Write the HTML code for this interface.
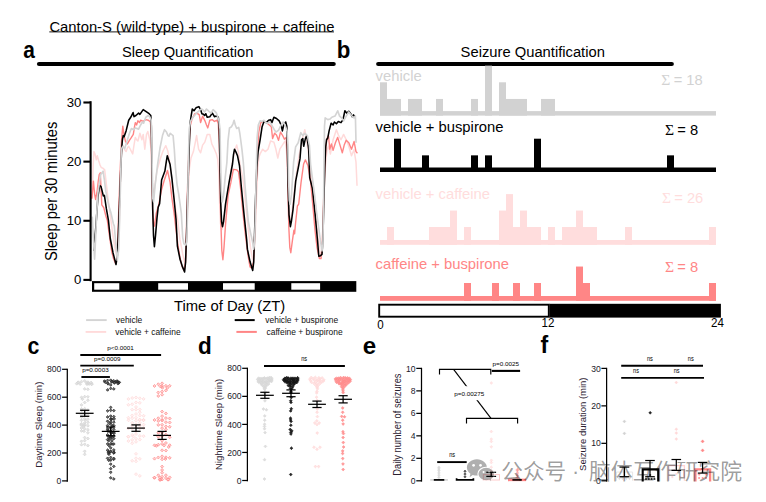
<!DOCTYPE html>
<html lang="en"><head><meta charset="utf-8"><title>Canton-S (wild-type) + buspirone + caffeine</title>
<style>html,body{margin:0;padding:0;background:#fff}svg{display:block}text{white-space:pre}</style></head>
<body>
<svg width="766" height="502" viewBox="0 0 766 502" font-family="'Liberation Sans', Arial, sans-serif">
<rect width="766" height="502" fill="#fff"/>
<text x="49.4" y="31.6" font-size="14.8" fill="#000" text-anchor="start" id="title">Canton-S (wild-type) + buspirone + caffeine</text>
<line x1="49.3" y1="31.9" x2="334" y2="31.9" stroke="#000" stroke-width="0.9" stroke-linecap="butt"/>
<text transform="translate(23.2,57.8) scale(0.9,1)" font-size="23.2" fill="#000" text-anchor="start" font-weight="bold">a</text>
<text transform="translate(336.7,57.8) scale(0.96,1)" font-size="23.2" fill="#000" text-anchor="start" font-weight="bold">b</text>
<text transform="translate(27.5,354) scale(0.92,1)" font-size="23.2" fill="#000" text-anchor="start" font-weight="bold">c</text>
<text transform="translate(198,354) scale(0.97,1)" font-size="23.2" fill="#000" text-anchor="start" font-weight="bold">d</text>
<text transform="translate(362.8,354.2) scale(1.04,1)" font-size="23.2" fill="#000" text-anchor="start" font-weight="bold">e</text>
<text x="540.4" y="353.3" font-size="23.2" fill="#000" text-anchor="start" font-weight="bold">f</text>
<text x="122" y="57.3" font-size="14.7" fill="#000" text-anchor="start" id="hA">Sleep Quantification</text>
<line x1="39" y1="64" x2="333.7" y2="64" stroke="#000" stroke-width="4.2" stroke-linecap="round"/>
<text x="460.6" y="57.3" font-size="14.75" fill="#000" text-anchor="start" id="hB">Seizure Quantification</text>
<line x1="378.2" y1="64" x2="671.8" y2="64" stroke="#000" stroke-width="4.2" stroke-linecap="round"/>
<g fill="none" stroke-linejoin="round" stroke-linecap="round">
<polyline points="92.3,197.11 93.2,164.59 93.9,151.58 95,153.95 96.3,159.86 97.3,155.72 98.6,160.45 99.9,164.59 101.2,167.55 102.8,168.14 104.7,169.91 105.8,179.37 107.3,192.38 109,205.98 111,220.77 113,235.55 115,248.56 116.8,256.25 118,253.29 119,232.59 120,197.11 121,161.63 122.2,145.08 123.5,146.26 124.8,149.81 126.1,151.58 127.4,148.03 128.7,146.26 130.6,149.81 132.7,153.95 134,145.08 135.3,137.39 136.6,139.75 137.9,140.94 139.9,133.25 141.9,139.75 143.2,134.43 144.8,149.22 146.5,134.43 147.8,131.48 149.8,139.75 151,148.62 151.5,173.46 152.1,194.16 152.7,197.11 154.5,188.24 157,170.5 160.3,158.68 163,150.99 165.8,145.67 167.8,150.99 169.7,162.22 171.5,176.42 173,191.2 175,205.98 177.5,218.99 180,239.69 182.7,253.88 184.5,262.16 186,256.25 187,226.68 188.2,191.2 189.5,167.55 191,158.09 193.4,151.58 195,143.89 196.6,135.61 197.6,142.71 198.6,149.22 200.6,152.76 202.6,145.08 204.8,142.12 207.2,134.43 209.8,134.43 211.8,143.89 214.4,149.22 216.4,153.95 217.7,159.27 218.8,173.46 219.6,203.03 220.5,223.72 222,229.64 223.5,223.72 225.5,208.94 228,191.2 230.5,173.46 233,158.68 235,149.81 236.7,145.08 238.5,152.76 240,164.59 243,179.37 245.5,203.03 248,226.68 250.5,247.38 252.5,259.2 254,256.25 255.3,232.59 256.5,197.11 257.8,167.55 259,156.9 260.1,153.95 262.7,149.22 265.3,151.58 268,149.22 270.6,140.94 273.9,142.12 275.9,149.22 277.8,158.09 279.8,149.22 282.4,145.08 285.1,140.94 286.4,149.22 287.4,167.55 288.2,197.11 289.2,217.81 290.5,220.77 292,211.9 294,194.16 296.5,173.46 299,155.72 301.5,143.89 303.5,134.43 304.8,129.7 306,136.21 308,149.81 311,173.46 313.5,197.11 316,220.77 318.5,241.46 320.5,256.25 322,253.29 323,226.68 324.2,191.2 325.5,164.59 327,149.81 328.5,146.26 330.4,153.95 333.1,139.75 336.4,129.7 338.4,135.02 341,139.75 343.6,134.43 346.2,139.75 348.8,146.26 351.5,155.72 354,149.81 356,162.22 357,185.29" stroke="#ffdada" stroke-width="1.5"/>
<polyline points="91.9,198.3 93.4,181.15 94.6,194.16 95.6,199.48 97.2,190.61 98.3,181.15 99.2,174.64 100.3,172.87 101,188.24 101.8,204.8 103.8,207.76 105.7,215.44 107.3,220.18 109,232.59 111.7,251.52 113.5,258.61 115.4,263.34 116.5,260.98 117.8,238.51 119,203.03 120.3,167.55 121.5,140.94 122.8,126.15 124.1,135.61 125.5,141.53 127.4,143.89 129.4,140.35 131.4,137.39 133.3,134.43 134.4,127.34 135.3,122.61 136.6,124.97 137.9,120.83 139.5,122.61 140.6,120.24 143.2,121.42 145.8,119.65 148.4,120.24 150.4,122.01 151.3,132.07 151.9,173.46 152.6,208.94 153.6,224.91 154.4,226.09 156.3,213.08 159,203.62 161.6,189.43 164.2,180.56 167.5,170.5 168.8,176.42 170.1,182.33 172.1,199.48 174.1,213.08 176,229.64 178,245.6 180,257.43 182,266.3 184,270.44 185.5,262.16 186.5,226.68 187.6,185.29 188.8,149.81 190.2,126.15 192,119.06 194.7,113.74 197,113.14 199.3,114.92 200.6,122.61 202.6,116.1 205.2,121.42 206.5,124.97 207.8,127.93 209.8,120.24 212.4,119.65 214.4,121.42 217,120.24 218.3,123.79 219.3,143.89 220,179.37 220.8,220.77 221.8,250.33 222.9,259.79 224,247.38 225.5,224.91 228.1,195.34 230.8,182.92 233.4,169.32 236.9,169.91 238.5,171.69 240.4,186.47 243,213.08 245.5,235.55 248,255.06 250,266.89 251.8,268.07 253.5,262.16 254.8,232.59 256,191.2 257.3,155.72 258.8,132.07 260.8,122.61 264,120.83 267.8,123.79 271.3,126.74 272.6,138.57 274.6,133.25 276.5,135.02 278.5,140.35 280.5,132.07 282.4,135.02 284.4,139.16 286.4,137.39 287.3,155.72 288,191.2 288.8,226.68 289.8,247.38 290.8,252.7 292.3,241.46 293.9,230.23 294.6,233.78 295.5,223.72 297.4,205.98 298.7,204.21 301,182.92 303.6,164 305.4,159.86 308,165.77 310.6,181.15 313.2,209.53 315,230.23 317,247.38 319.4,258.61 321,258.61 322.3,244.42 323.3,208.94 324.5,173.46 325.8,146.85 327.2,137.98 328.5,135.61 329.8,149.22 331.4,143.89 333.1,150.4 335.4,142.71 337.7,137.39 340,145.08 342.3,152.76 344.2,145.08 346.2,140.35 348.8,142.71 351.5,149.22 354.1,141.53 356,151.58 357,152.76" stroke="#ff8585" stroke-width="1.4"/>
<polyline points="94,250.33 95.9,226.09 97.9,197.11 99.6,185.29 101,186.47 102.5,192.38 103.3,195.93 104.4,195.34 106.4,208.94 108.4,220.18 110.3,238.51 113,252.7 116,264.53 117.3,256.25 118.4,232.59 119.5,203.03 120.6,173.46 121.6,149.81 122.4,139.75 123.2,135.61 124.1,136.8 126.1,130.88 128.7,120.24 130.7,117.28 133.1,112.55 134,116.69 135.9,115.51 138.6,113.14 139.9,114.33 143.2,109.6 145.8,111.37 149.1,113.74 150.8,115.51 151.3,126.15 151.9,161.63 152.7,208.94 153.5,235.55 154.4,246.79 155.5,235.55 157,217.81 158.2,207.17 159.6,203.62 161.6,179.96 164.9,171.09 166.3,161.63 167.3,155.72 168.6,159.86 170.1,164.59 172.1,179.96 174.1,199.48 176,218.99 177.4,246.19 180,259.2 182.5,266.89 184.6,271.92 185.6,262.16 186.6,232.59 187.6,197.11 188.7,161.63 190.1,123.2 191.2,115.51 192.3,109 194,110.78 196,107.82 198.9,106.64 200.6,109.6 201.9,113.74 203.5,114.33 204.5,115.51 205.8,113.74 207.2,117.28 209.8,116.69 212.4,113.14 214.4,116.69 216.4,116.1 218.3,117.28 219.2,126.15 219.9,161.63 220.7,203.03 221.6,221.95 222.5,226.68 223.5,221.95 225.5,204.21 229,182.92 232.5,164 233.5,154.54 234.5,149.22 236,152.17 237.5,155.72 239.5,165.77 241.3,186.47 243.9,213.08 246.6,239.1 247.4,249.15 250,261.57 252.7,270.44 253.7,262.16 254.6,232.59 255.6,197.11 256.8,167.55 258.1,151.58 260.1,139.75 262.1,126.74 264,121.42 266.3,122.61 268.6,120.24 270.6,119.65 271.9,122.61 273.9,117.28 276.5,118.47 279.2,120.83 281.1,124.97 282.4,130.88 283.7,124.97 285.7,122.01 286.8,126.15 287.4,149.81 288.1,185.29 289,214.85 290.4,226.68 291.5,220.77 293,209.53 295.7,181.15 298.3,167.55 300,158.68 301.5,139.75 302.8,138.57 303.7,146.26 305.4,138.57 306.8,135.61 308.7,149.22 309.7,177.6 312.4,188.24 315,213.08 317.6,241.46 318.8,256.25 320.5,255.66 322,254.47 322.9,238.51 323.8,203.03 324.8,167.55 325.7,146.85 326.5,139.75 327.8,137.98 329.1,130.88 331.1,123.2 333.1,124.97 334.4,122.01 336.4,123.79 338.3,121.42 341,122.61 343,119.65 344.9,110.78 346.9,113.14 348.8,111.37 350.8,113.74 352.1,116.69 353.5,114.92 355,117.28" stroke="#000" stroke-width="1.55"/>
<polyline points="92.3,217.22 93.4,238.51 94.6,259.2 95.6,238.51 96.5,217.81 97.9,192.97 99.4,182.92 100.5,174.64 102,172.87 103.1,171.09 104.4,179.96 105.7,190.61 107.7,200.66 109,206.57 111,213.08 113.4,223.72 114.3,226.09 115.6,241.46 117.3,260.39 118.6,250.33 119.6,220.77 120.5,184.1 121.3,149.22 122.8,146.26 124.7,148.62 127.4,139.75 129.5,133.25 131.4,128.52 133.5,129.7 135.4,127.93 138.6,129.11 140.6,124.97 142.4,122.01 143.6,123.2 145.8,117.28 148.2,115.51 149.6,116.69 151.1,119.65 151.8,132.07 152.2,167.55 152.8,198.3 153.6,201.84 155,186.47 157.6,164.59 160,148.03 162.5,135.61 164.5,129.7 166.5,132.07 168,135.61 169,136.21 170.2,133.25 171.5,134.43 173.1,135.61 174.3,149.22 175.5,168.14 177,184.1 178.7,194.16 181.3,213.08 182.7,237.32 183.9,243.83 185.9,245.01 186.8,241.46 187.6,208.94 188.3,161.63 189.2,129.11 190.5,121.42 192.5,117.87 194.5,115.51 196.5,113.14 199,110.78 201,109 202.6,109.6 204.5,111.96 206.5,109 209,111.37 211,113.14 213.1,109.6 215,111.37 216.5,113.14 217.8,117.28 219,120.83 220,129.11 220.6,161.63 221.3,191.2 222.2,201.84 223.5,195.93 225,179.37 226.9,162.22 228,140.94 229.5,127.93 231.5,126.74 233,123.79 234.1,120.24 235.3,124.97 236.7,128.52 238.7,127.34 239.8,133.25 240.7,139.75 242,149.81 243.3,162.22 245,185.29 246.8,205.98 248.3,221.36 250.5,232.59 252.7,242.65 253.6,249.15 254.5,244.42 255.3,220.77 256.2,173.46 257.1,137.98 258.3,124.97 260.1,120.83 262,121.42 264,120.24 265.8,122.61 267.3,123.2 269.9,122.01 272.6,126.74 274.3,129.7 275.9,132.07 278.5,130.29 281.1,124.97 283.1,122.01 285,124.97 287,130.88 287.9,143.89 288.6,179.37 289.3,200.07 290.2,204.21 291.5,194.16 293.6,162.22 295.6,146.85 298.2,142.71 300.8,132.66 302.8,135.61 304.8,133.25 307.4,135.61 309.4,145.08 310.6,164.59 312.4,178.19 314.5,194.16 316.7,213.08 320.2,239.1 322,250.92 322.9,244.42 323.5,208.94 324,161.63 324.5,126.15 325.2,117.87 327.8,119.65 330,119.06 331.8,117.28 335,116.1 337.7,110.78 339.6,116.1 341.6,117.87 343.6,120.83 346.2,116.1 348.8,111.96 351.4,115.51 354,117.87 355.4,116.1 356,142.12" stroke="#d4d4d4" stroke-width="1.65"/>
</g>
<line x1="90.6" y1="101.2" x2="90.6" y2="281.2" stroke="#000" stroke-width="2.1" stroke-linecap="butt"/>
<line x1="83.4" y1="279.9" x2="90.6" y2="279.9" stroke="#000" stroke-width="2.1" stroke-linecap="butt"/>
<text x="81.3" y="284.2" font-size="13.2" fill="#000" text-anchor="end">0</text>
<line x1="83.4" y1="220.77" x2="90.6" y2="220.77" stroke="#000" stroke-width="2.1" stroke-linecap="butt"/>
<text x="81.3" y="225.07" font-size="13.2" fill="#000" text-anchor="end">10</text>
<line x1="83.4" y1="161.63" x2="90.6" y2="161.63" stroke="#000" stroke-width="2.1" stroke-linecap="butt"/>
<text x="81.3" y="165.93" font-size="13.2" fill="#000" text-anchor="end">20</text>
<line x1="83.4" y1="102.5" x2="90.6" y2="102.5" stroke="#000" stroke-width="2.1" stroke-linecap="butt"/>
<text x="81.3" y="106.8" font-size="13.2" fill="#000" text-anchor="end">30</text>
<text transform="translate(56.6,191.4) rotate(-90) scale(1,1.08)" font-size="14.75" text-anchor="middle" id="ylabA">Sleep per 30 minutes</text>
<rect x="92" y="281.1" width="264.3" height="10.7" fill="#000"/>
<rect x="94.2" y="283.2" width="25.1" height="6.5" fill="#fff"/>
<rect x="158.2" y="283.2" width="29.8" height="6.5" fill="#fff"/>
<rect x="223" y="283.2" width="31.7" height="6.5" fill="#fff"/>
<rect x="291.3" y="283.2" width="28.8" height="6.5" fill="#fff"/>
<text x="174" y="310.7" font-size="14.8" fill="#000" text-anchor="start" id="xlabA">Time of Day (ZT)</text>
<line x1="86.1" y1="320.1" x2="106.7" y2="320.1" stroke="#d4d4d4" stroke-width="1.9" stroke-linecap="butt"/>
<text x="116" y="323.4" font-size="8.45" fill="#111" text-anchor="start">vehicle</text>
<line x1="85.6" y1="331.9" x2="106.2" y2="331.9" stroke="#ffdada" stroke-width="1.9" stroke-linecap="butt"/>
<text x="115.3" y="335.2" font-size="8.45" fill="#111" text-anchor="start">vehicle + caffeine</text>
<line x1="234.7" y1="320.1" x2="254.7" y2="320.1" stroke="#000" stroke-width="2" stroke-linecap="butt"/>
<text x="265.3" y="323.4" font-size="8.45" fill="#111" text-anchor="start">vehicle + buspirone</text>
<line x1="236.4" y1="331.9" x2="256.8" y2="331.9" stroke="#ff8585" stroke-width="2" stroke-linecap="butt"/>
<text x="266.5" y="335.2" font-size="8.45" fill="#111" text-anchor="start">caffeine + buspirone</text>
<rect x="380" y="111.1" width="336" height="4.5" fill="#d2d2d2"/>
<rect x="380" y="82.3" width="7" height="33.3" fill="#d2d2d2"/>
<rect x="387" y="98.95" width="7" height="16.65" fill="#d2d2d2"/>
<rect x="394" y="98.95" width="7" height="16.65" fill="#d2d2d2"/>
<rect x="408" y="98.95" width="7" height="16.65" fill="#d2d2d2"/>
<rect x="415" y="98.95" width="7" height="16.65" fill="#d2d2d2"/>
<rect x="436" y="98.95" width="7" height="16.65" fill="#d2d2d2"/>
<rect x="471" y="98.95" width="7" height="16.65" fill="#d2d2d2"/>
<rect x="485" y="65.65" width="7" height="49.95" fill="#d2d2d2"/>
<rect x="499" y="82.3" width="7" height="33.3" fill="#d2d2d2"/>
<rect x="506" y="98.95" width="7" height="16.65" fill="#d2d2d2"/>
<rect x="513" y="98.95" width="7" height="16.65" fill="#d2d2d2"/>
<rect x="520" y="98.95" width="7" height="16.65" fill="#d2d2d2"/>
<rect x="541" y="98.95" width="7" height="16.65" fill="#d2d2d2"/>
<rect x="548" y="98.95" width="7" height="16.65" fill="#d2d2d2"/>
<text x="375.6" y="81.4" font-size="14.8" fill="#d2d2d2" text-anchor="start">vehicle</text>
<text x="661.3" y="84.6" font-size="15.6" fill="#d2d2d2" font-family="'Liberation Serif', 'DejaVu Serif', serif">&#931;</text>
<text x="673.7" y="84.6" font-size="14.7" fill="#d2d2d2">= 18</text>
<rect x="380" y="167.5" width="336" height="4.5" fill="#000"/>
<rect x="394" y="138.7" width="7" height="33.3" fill="#000"/>
<rect x="422" y="155.35" width="7" height="16.65" fill="#000"/>
<rect x="471" y="155.35" width="7" height="16.65" fill="#000"/>
<rect x="485" y="155.35" width="7" height="16.65" fill="#000"/>
<rect x="534" y="138.7" width="7" height="33.3" fill="#000"/>
<rect x="667" y="155.35" width="7" height="16.65" fill="#000"/>
<text x="375.6" y="132.1" font-size="14.8" fill="#000" text-anchor="start">vehicle + buspirone</text>
<text x="664.9" y="135" font-size="15.6" fill="#000" font-family="'Liberation Serif', 'DejaVu Serif', serif">&#931;</text>
<text x="677.3" y="135" font-size="14.7" fill="#000">= 8</text>
<rect x="380" y="240" width="336" height="4.8" fill="#ffdddd"/>
<rect x="387" y="227" width="7" height="17.8" fill="#ffdddd"/>
<rect x="429" y="227" width="7" height="17.8" fill="#ffdddd"/>
<rect x="436" y="227" width="7" height="17.8" fill="#ffdddd"/>
<rect x="443" y="227" width="7" height="17.8" fill="#ffdddd"/>
<rect x="450" y="210.55" width="7" height="34.25" fill="#ffdddd"/>
<rect x="464" y="227" width="7" height="17.8" fill="#ffdddd"/>
<rect x="499" y="210.55" width="7" height="34.25" fill="#ffdddd"/>
<rect x="506" y="194.1" width="7" height="50.7" fill="#ffdddd"/>
<rect x="513" y="227" width="7" height="17.8" fill="#ffdddd"/>
<rect x="520" y="210.55" width="7" height="34.25" fill="#ffdddd"/>
<rect x="527" y="227" width="7" height="17.8" fill="#ffdddd"/>
<rect x="534" y="227" width="7" height="17.8" fill="#ffdddd"/>
<rect x="548" y="227" width="7" height="17.8" fill="#ffdddd"/>
<rect x="562" y="227" width="7" height="17.8" fill="#ffdddd"/>
<rect x="569" y="227" width="7" height="17.8" fill="#ffdddd"/>
<rect x="576" y="210.55" width="7" height="34.25" fill="#ffdddd"/>
<rect x="583" y="227" width="7" height="17.8" fill="#ffdddd"/>
<rect x="590" y="227" width="7" height="17.8" fill="#ffdddd"/>
<rect x="625" y="227" width="7" height="17.8" fill="#ffdddd"/>
<rect x="709" y="227" width="7" height="17.8" fill="#ffdddd"/>
<text x="375.6" y="198.7" font-size="14.8" fill="#ffdddd" text-anchor="start">vehicle + caffeine</text>
<text x="661.9" y="203" font-size="15.6" fill="#ffdddd" font-family="'Liberation Serif', 'DejaVu Serif', serif">&#931;</text>
<text x="674.3" y="203" font-size="14.7" fill="#ffdddd">= 26</text>
<rect x="380" y="296" width="336" height="4.8" fill="#ff8686"/>
<rect x="464" y="283" width="7" height="17.8" fill="#ff8686"/>
<rect x="492" y="283" width="7" height="17.8" fill="#ff8686"/>
<rect x="513" y="283" width="7" height="17.8" fill="#ff8686"/>
<rect x="534" y="283" width="7" height="17.8" fill="#ff8686"/>
<rect x="576" y="266.55" width="7" height="34.25" fill="#ff8686"/>
<rect x="583" y="283" width="7" height="17.8" fill="#ff8686"/>
<rect x="709" y="283" width="7" height="17.8" fill="#ff8686"/>
<text x="375.6" y="269.1" font-size="14.8" fill="#ff8686" text-anchor="start">caffeine + buspirone</text>
<text x="664.9" y="271.6" font-size="15.6" fill="#ff8686" font-family="'Liberation Serif', 'DejaVu Serif', serif">&#931;</text>
<text x="677.3" y="271.6" font-size="14.7" fill="#ff8686">= 8</text>
<rect x="379.2" y="304.7" width="169.6" height="12" fill="#fff" stroke="#000" stroke-width="1.9"/>
<rect x="549.5" y="303.8" width="171.4" height="13.8" fill="#000"/>
<text transform="translate(377.3,328.9) scale(0.92,1)" font-size="12.6" fill="#000" text-anchor="start">0</text>
<text transform="translate(541.6,327) scale(0.92,1)" font-size="12.6" fill="#000" text-anchor="start">12</text>
<text transform="translate(711.1,327) scale(0.92,1)" font-size="12.6" fill="#000" text-anchor="start">24</text>
<line x1="67.3" y1="368.7" x2="67.3" y2="481.7" stroke="#000" stroke-width="1.25" stroke-linecap="butt"/>
<line x1="62.1" y1="480.9" x2="67.3" y2="480.9" stroke="#000" stroke-width="1.25" stroke-linecap="butt"/>
<text x="61.4" y="484" font-size="8.6" fill="#1a1a2a" text-anchor="end">0</text>
<line x1="62.1" y1="453" x2="67.3" y2="453" stroke="#000" stroke-width="1.25" stroke-linecap="butt"/>
<text x="61.4" y="456.1" font-size="8.6" fill="#1a1a2a" text-anchor="end">200</text>
<line x1="62.1" y1="425.1" x2="67.3" y2="425.1" stroke="#000" stroke-width="1.25" stroke-linecap="butt"/>
<text x="61.4" y="428.2" font-size="8.6" fill="#1a1a2a" text-anchor="end">400</text>
<line x1="62.1" y1="397.2" x2="67.3" y2="397.2" stroke="#000" stroke-width="1.25" stroke-linecap="butt"/>
<text x="61.4" y="400.3" font-size="8.6" fill="#1a1a2a" text-anchor="end">600</text>
<line x1="62.1" y1="369.3" x2="67.3" y2="369.3" stroke="#000" stroke-width="1.25" stroke-linecap="butt"/>
<text x="61.4" y="372.4" font-size="8.6" fill="#1a1a2a" text-anchor="end">800</text>
<text transform="translate(42,424.7) rotate(-90)" font-size="9.5" text-anchor="middle" fill="#2a2030">Daytime Sleep (min)</text>
<path d="M83.25 380.91L84.7 379.46L86.15 380.91L84.7 382.36ZM80.05 381.64L81.5 380.19L82.95 381.64L81.5 383.09ZM86.45 382.12L87.9 380.67L89.35 382.12L87.9 383.57ZM76.85 382.24L78.3 380.79L79.75 382.24L78.3 383.69ZM89.65 382.55L91.1 381.1L92.55 382.55L91.1 384ZM76.35 382.59L77.8 381.14L79.25 382.59L77.8 384.04ZM85.08 382.84L86.53 381.39L87.98 382.84L86.53 384.29ZM87.02 383.01L88.47 381.56L89.92 383.01L88.47 384.46ZM75.27 383.73L76.72 382.28L78.17 383.73L76.72 385.18ZM86.42 383.85L87.87 382.4L89.32 383.85L87.87 385.3ZM87.73 383.99L89.18 382.54L90.63 383.99L89.18 385.44ZM78.67 384.06L80.12 382.61L81.57 384.06L80.12 385.51ZM90.5 384.07L91.95 382.62L93.4 384.07L91.95 385.52ZM85.45 384.12L86.9 382.67L88.35 384.12L86.9 385.57ZM89.97 384.21L91.42 382.76L92.87 384.21L91.42 385.66ZM83.25 388.91L84.7 387.46L86.15 388.91L84.7 390.36ZM86.45 389.31L87.9 387.86L89.35 389.31L87.9 390.76Z" fill="#e4e4e4" stroke="#d4d4d4" stroke-width="0.7" stroke-linejoin="round"/>
<path d="M83.25 396.65L84.7 395.2L86.15 396.65L84.7 398.1ZM86.45 396.83L87.9 395.38L89.35 396.83L87.9 398.28ZM80.05 397.39L81.5 395.94L82.95 397.39L81.5 398.84ZM80.98 399.16L82.43 397.71L83.88 399.16L82.43 400.61ZM86.45 400.29L87.9 398.84L89.35 400.29L87.9 401.74ZM83.25 402.49L84.7 401.04L86.15 402.49L84.7 403.94ZM80.05 404.89L81.5 403.44L82.95 404.89L81.5 406.34ZM83.25 408.78L84.7 407.33L86.15 408.78L84.7 410.23ZM80.05 408.93L81.5 407.48L82.95 408.93L81.5 410.38ZM86.45 410.04L87.9 408.59L89.35 410.04L87.9 411.49ZM80.3 410.25L81.75 408.8L83.2 410.25L81.75 411.7ZM83.25 414.27L84.7 412.82L86.15 414.27L84.7 415.72ZM80.05 414.68L81.5 413.23L82.95 414.68L81.5 416.13ZM86.45 415.24L87.9 413.79L89.35 415.24L87.9 416.69ZM84.14 415.57L85.59 414.12L87.04 415.57L85.59 417.02ZM80.05 417.28L81.5 415.83L82.95 417.28L81.5 418.73ZM83.25 418.9L84.7 417.45L86.15 418.9L84.7 420.35ZM86.45 419.15L87.9 417.7L89.35 419.15L87.9 420.6ZM80.05 420.3L81.5 418.85L82.95 420.3L81.5 421.75ZM83.97 420.33L85.42 418.88L86.87 420.33L85.42 421.78ZM86.45 422.35L87.9 420.9L89.35 422.35L87.9 423.8ZM83.25 423.01L84.7 421.56L86.15 423.01L84.7 424.46ZM80.05 423.81L81.5 422.36L82.95 423.81L81.5 425.26ZM83.39 424.73L84.84 423.28L86.29 424.73L84.84 426.18ZM79.68 424.91L81.13 423.46L82.58 424.91L81.13 426.36ZM86.45 425.7L87.9 424.25L89.35 425.7L87.9 427.15ZM82.58 425.8L84.03 424.35L85.48 425.8L84.03 427.25ZM81.92 426.19L83.37 424.74L84.82 426.19L83.37 427.64ZM80.05 428.03L81.5 426.58L82.95 428.03L81.5 429.48ZM83.25 428.76L84.7 427.31L86.15 428.76L84.7 430.21ZM86.45 429.78L87.9 428.33L89.35 429.78L87.9 431.23ZM80.05 430.86L81.5 429.41L82.95 430.86L81.5 432.31ZM82.53 431.2L83.98 429.75L85.43 431.2L83.98 432.65ZM86.45 432.86L87.9 431.41L89.35 432.86L87.9 434.31ZM83.25 437.58L84.7 436.13L86.15 437.58L84.7 439.03ZM86.45 438.57L87.9 437.12L89.35 438.57L87.9 440.02ZM83.25 440.57L84.7 439.12L86.15 440.57L84.7 442.02ZM80.05 441.36L81.5 439.91L82.95 441.36L81.5 442.81ZM83.25 444.33L84.7 442.88L86.15 444.33L84.7 445.78ZM80.05 444.71L81.5 443.26L82.95 444.71L81.5 446.16ZM86.45 445.59L87.9 444.14L89.35 445.59L87.9 447.04ZM83.25 451.33L84.7 449.88L86.15 451.33L84.7 452.78ZM83.25 454.39L84.7 452.94L86.15 454.39L84.7 455.84Z" fill="#e4e4e4" stroke="#d4d4d4" stroke-width="0.7" stroke-linejoin="round"/>
<path d="M109.3 380.22L110.7 378.82L112.1 380.22L110.7 381.62ZM106.2 380.46L107.6 379.06L109 380.46L107.6 381.86ZM112.4 380.81L113.8 379.41L115.2 380.81L113.8 382.21ZM115.5 380.98L116.9 379.58L118.3 380.98L116.9 382.38ZM103.1 381.08L104.5 379.68L105.9 381.08L104.5 382.48ZM110.68 381.36L112.08 379.96L113.48 381.36L112.08 382.76ZM114.46 381.68L115.86 380.28L117.26 381.68L115.86 383.08ZM116.12 381.71L117.52 380.31L118.92 381.71L117.52 383.11ZM116.64 381.87L118.04 380.47L119.44 381.87L118.04 383.27ZM110.33 381.95L111.73 380.55L113.13 381.95L111.73 383.35ZM103.8 382.22L105.2 380.82L106.6 382.22L105.2 383.62ZM117.78 382.29L119.18 380.89L120.58 382.29L119.18 383.69ZM113.28 382.33L114.68 380.93L116.08 382.33L114.68 383.73ZM117.48 382.82L118.88 381.42L120.28 382.82L118.88 384.22ZM112.96 382.91L114.36 381.51L115.76 382.91L114.36 384.31ZM106.2 383.27L107.6 381.87L109 383.27L107.6 384.67ZM116.52 383.63L117.92 382.23L119.32 383.63L117.92 385.03ZM106.76 383.77L108.16 382.37L109.56 383.77L108.16 385.17ZM109.3 384.9L110.7 383.5L112.1 384.9L110.7 386.3ZM109.3 388.45L110.7 387.05L112.1 388.45L110.7 389.85ZM112.4 388.92L113.8 387.52L115.2 388.92L113.8 390.32ZM106.2 389.9L107.6 388.5L109 389.9L107.6 391.3Z" fill="#6c6c6c" stroke="#262626" stroke-width="0.7" stroke-linejoin="round"/>
<path d="M109.3 407.4L110.7 406L112.1 407.4L110.7 408.8ZM109.3 410.33L110.7 408.93L112.1 410.33L110.7 411.73ZM112.4 410.58L113.8 409.18L115.2 410.58L113.8 411.98ZM106.2 410.86L107.6 409.46L109 410.86L107.6 412.26ZM109.3 416.06L110.7 414.66L112.1 416.06L110.7 417.46ZM112.4 416.56L113.8 415.16L115.2 416.56L113.8 417.96ZM106.2 416.98L107.6 415.58L109 416.98L107.6 418.38ZM109.3 418.94L110.7 417.54L112.1 418.94L110.7 420.34ZM112.78 419.02L114.18 417.62L115.58 419.02L114.18 420.42ZM110.3 419.07L111.7 417.67L113.1 419.07L111.7 420.47ZM109.71 419.39L111.11 417.99L112.51 419.39L111.11 420.79ZM106.2 421.27L107.6 419.87L109 421.27L107.6 422.67ZM109.3 421.97L110.7 420.57L112.1 421.97L110.7 423.37ZM112.4 422.2L113.8 420.8L115.2 422.2L113.8 423.6ZM108.18 423.16L109.58 421.76L110.98 423.16L109.58 424.56ZM109.83 424.54L111.23 423.14L112.63 424.54L111.23 425.94ZM106.2 425.51L107.6 424.11L109 425.51L107.6 426.91ZM112.4 425.56L113.8 424.16L115.2 425.56L113.8 426.96ZM111.39 426.23L112.79 424.83L114.19 426.23L112.79 427.63ZM109.3 428.12L110.7 426.72L112.1 428.12L110.7 429.52ZM106.2 429.11L107.6 427.71L109 429.11L107.6 430.51ZM112.4 429.33L113.8 427.93L115.2 429.33L113.8 430.73ZM106.44 430.13L107.84 428.73L109.24 430.13L107.84 431.53ZM109.3 430.77L110.7 429.37L112.1 430.77L110.7 432.17ZM106.59 431.26L107.99 429.86L109.39 431.26L107.99 432.66ZM109.58 431.36L110.98 429.96L112.38 431.36L110.98 432.76ZM112.4 432.3L113.8 430.9L115.2 432.3L113.8 433.7ZM109.35 432.59L110.75 431.19L112.15 432.59L110.75 433.99ZM110.05 432.6L111.45 431.2L112.85 432.6L111.45 434ZM110.07 433.14L111.47 431.74L112.87 433.14L111.47 434.54ZM112.57 433.39L113.97 431.99L115.37 433.39L113.97 434.79ZM106.2 434.83L107.6 433.43L109 434.83L107.6 436.23ZM109.3 435.85L110.7 434.45L112.1 435.85L110.7 437.25ZM112.4 436.09L113.8 434.69L115.2 436.09L113.8 437.49ZM110.52 436.84L111.92 435.44L113.32 436.84L111.92 438.24ZM107.44 437.01L108.84 435.61L110.24 437.01L108.84 438.41ZM109.38 438.03L110.78 436.63L112.18 438.03L110.78 439.43ZM108.47 438.44L109.87 437.04L111.27 438.44L109.87 439.84ZM112.4 438.6L113.8 437.2L115.2 438.6L113.8 440ZM106.2 439.6L107.6 438.2L109 439.6L107.6 441ZM110.53 440.73L111.93 439.33L113.33 440.73L111.93 442.13ZM107.23 440.8L108.63 439.4L110.03 440.8L108.63 442.2ZM109.3 443.62L110.7 442.22L112.1 443.62L110.7 445.02ZM106.2 443.97L107.6 442.57L109 443.97L107.6 445.37ZM112.4 444.02L113.8 442.62L115.2 444.02L113.8 445.42ZM110.67 444.1L112.07 442.7L113.47 444.1L112.07 445.5ZM107.74 445.68L109.14 444.28L110.54 445.68L109.14 447.08ZM109.3 447.86L110.7 446.46L112.1 447.86L110.7 449.26ZM112.4 449.96L113.8 448.56L115.2 449.96L113.8 451.36ZM106.2 450.15L107.6 448.75L109 450.15L107.6 451.55ZM109.3 451.25L110.7 449.85L112.1 451.25L110.7 452.65ZM107.26 451.64L108.66 450.24L110.06 451.64L108.66 453.04ZM109.13 451.73L110.53 450.33L111.93 451.73L110.53 453.13ZM112.49 452.15L113.89 450.75L115.29 452.15L113.89 453.55ZM112.27 452.56L113.67 451.16L115.07 452.56L113.67 453.96ZM107.12 452.79L108.52 451.39L109.92 452.79L108.52 454.19ZM112.43 453L113.83 451.6L115.23 453L113.83 454.4ZM107.49 453.06L108.89 451.66L110.29 453.06L108.89 454.46ZM107.53 454.26L108.93 452.86L110.33 454.26L108.93 455.66ZM109.3 457.47L110.7 456.07L112.1 457.47L110.7 458.87ZM106.2 458.32L107.6 456.92L109 458.32L107.6 459.72ZM112.4 458.46L113.8 457.06L115.2 458.46L113.8 459.86ZM112.29 459.26L113.69 457.86L115.09 459.26L113.69 460.66ZM109.3 460.13L110.7 458.73L112.1 460.13L110.7 461.53ZM107.41 460.34L108.81 458.94L110.21 460.34L108.81 461.74ZM109.3 464.16L110.7 462.76L112.1 464.16L110.7 465.56ZM112.4 466.39L113.8 464.99L115.2 466.39L113.8 467.79ZM109.3 468.62L110.7 467.22L112.1 468.62L110.7 470.02ZM109.3 472.25L110.7 470.85L112.1 472.25L110.7 473.65ZM109.3 477.83L110.7 476.43L112.1 477.83L110.7 479.23ZM112.4 478.95L113.8 477.55L115.2 478.95L113.8 480.35Z" fill="#6c6c6c" stroke="#262626" stroke-width="0.7" stroke-linejoin="round"/>
<path d="M134.5 397.47L136 395.97L137.5 397.47L136 398.97ZM130.7 398L132.2 396.5L133.7 398L132.2 399.5ZM138.3 398.3L139.8 396.8L141.3 398.3L139.8 399.8ZM142.1 398.91L143.6 397.41L145.1 398.91L143.6 400.41ZM126.9 398.97L128.4 397.47L129.9 398.97L128.4 400.47ZM134.5 402.43L136 400.93L137.5 402.43L136 403.93ZM138.3 402.87L139.8 401.37L141.3 402.87L139.8 404.37ZM130.7 404.28L132.2 402.78L133.7 404.28L132.2 405.78ZM126.9 404.83L128.4 403.33L129.9 404.83L128.4 406.33ZM134.5 406.96L136 405.46L137.5 406.96L136 408.46ZM138.3 409.41L139.8 407.91L141.3 409.41L139.8 410.91ZM134.5 409.65L136 408.15L137.5 409.65L136 411.15ZM130.7 409.65L132.2 408.15L133.7 409.65L132.2 411.15ZM138.3 412.24L139.8 410.74L141.3 412.24L139.8 413.74ZM134.5 413.94L136 412.44L137.5 413.94L136 415.44ZM130.7 415.45L132.2 413.95L133.7 415.45L132.2 416.95ZM138.3 415.54L139.8 414.04L141.3 415.54L139.8 417.04ZM142.1 415.77L143.6 414.27L145.1 415.77L143.6 417.27ZM134.5 417.69L136 416.19L137.5 417.69L136 419.19ZM126.9 417.75L128.4 416.25L129.9 417.75L128.4 419.25ZM130.7 418.27L132.2 416.77L133.7 418.27L132.2 419.77ZM138.3 419.56L139.8 418.06L141.3 419.56L139.8 421.06ZM142.1 419.9L143.6 418.4L145.1 419.9L143.6 421.4ZM137.93 419.97L139.43 418.47L140.93 419.97L139.43 421.47ZM141.93 420.02L143.43 418.52L144.93 420.02L143.43 421.52ZM127.07 420.28L128.57 418.78L130.07 420.28L128.57 421.78ZM141.95 420.35L143.45 418.85L144.95 420.35L143.45 421.85ZM134.5 420.67L136 419.17L137.5 420.67L136 422.17ZM138.3 422.69L139.8 421.19L141.3 422.69L139.8 424.19ZM130.7 422.84L132.2 421.34L133.7 422.84L132.2 424.34ZM134.5 424.42L136 422.92L137.5 424.42L136 425.92ZM142.1 424.67L143.6 423.17L145.1 424.67L143.6 426.17ZM138.3 425.68L139.8 424.18L141.3 425.68L139.8 427.18ZM130.7 425.71L132.2 424.21L133.7 425.71L132.2 427.21ZM134.5 427.61L136 426.11L137.5 427.61L136 429.11ZM142.1 428.02L143.6 426.52L145.1 428.02L143.6 429.52ZM138.3 428.38L139.8 426.88L141.3 428.38L139.8 429.88ZM126.9 428.39L128.4 426.89L129.9 428.39L128.4 429.89ZM130.7 428.59L132.2 427.09L133.7 428.59L132.2 430.09ZM134.5 431.32L136 429.82L137.5 431.32L136 432.82ZM134.5 434.06L136 432.56L137.5 434.06L136 435.56ZM130.7 434.98L132.2 433.48L133.7 434.98L132.2 436.48ZM138.3 435.93L139.8 434.43L141.3 435.93L139.8 437.43ZM142.1 436.16L143.6 434.66L145.1 436.16L143.6 437.66ZM126.9 436.52L128.4 435.02L129.9 436.52L128.4 438.02ZM132.01 436.59L133.51 435.09L135.01 436.59L133.51 438.09ZM126.82 436.85L128.32 435.35L129.82 436.85L128.32 438.35ZM134.5 438.74L136 437.24L137.5 438.74L136 440.24ZM138.3 439.58L139.8 438.08L141.3 439.58L139.8 441.08ZM130.7 439.9L132.2 438.4L133.7 439.9L132.2 441.4ZM126.9 441.04L128.4 439.54L129.9 441.04L128.4 442.54ZM134.5 441.81L136 440.31L137.5 441.81L136 443.31ZM130.7 443.27L132.2 441.77L133.7 443.27L132.2 444.77ZM134.5 453.84L136 452.34L137.5 453.84L136 455.34ZM134.5 458.3L136 456.8L137.5 458.3L136 459.8ZM138.3 458.86L139.8 457.36L141.3 458.86L139.8 460.36ZM130.7 460.81L132.2 459.31L133.7 460.81L132.2 462.31ZM134.5 461.37L136 459.87L137.5 461.37L136 462.87ZM134.5 474.2L136 472.7L137.5 474.2L136 475.7ZM138.3 475.88L139.8 474.38L141.3 475.88L139.8 477.38Z" fill="#fff2f2" stroke="#ffd9d9" stroke-width="0.7" stroke-linejoin="round"/>
<path d="M160.6 383.37L162.1 381.87L163.6 383.37L162.1 384.87ZM156.8 384.25L158.3 382.75L159.8 384.25L158.3 385.75ZM164.4 385.81L165.9 384.31L167.4 385.81L165.9 387.31ZM168.2 385.82L169.7 384.32L171.2 385.82L169.7 387.32ZM153 385.97L154.5 384.47L156 385.97L154.5 387.47ZM160.6 386.07L162.1 384.57L163.6 386.07L162.1 387.57ZM159.03 386.53L160.53 385.03L162.03 386.53L160.53 388.03ZM160.93 387.8L162.43 386.3L163.93 387.8L162.43 389.3ZM165.83 387.91L167.33 386.41L168.83 387.91L167.33 389.41ZM164.4 390.4L165.9 388.9L167.4 390.4L165.9 391.9ZM160.6 391.57L162.1 390.07L163.6 391.57L162.1 393.07ZM156.8 392.47L158.3 390.97L159.8 392.47L158.3 393.97ZM160.6 394.66L162.1 393.16L163.6 394.66L162.1 396.16ZM156.8 395.99L158.3 394.49L159.8 395.99L158.3 397.49ZM160.6 411.6L162.1 410.1L163.6 411.6L162.1 413.1ZM164.4 413.45L165.9 411.95L167.4 413.45L165.9 414.95ZM160.6 416.16L162.1 414.66L163.6 416.16L162.1 417.66ZM164.4 418.1L165.9 416.6L167.4 418.1L165.9 419.6ZM156.8 418.25L158.3 416.75L159.8 418.25L158.3 419.75ZM168.2 418.46L169.7 416.96L171.2 418.46L169.7 419.96ZM160.6 419.82L162.1 418.32L163.6 419.82L162.1 421.32ZM153 419.97L154.5 418.47L156 419.97L154.5 421.47ZM160.7 420.54L162.2 419.04L163.7 420.54L162.2 422.04ZM156.8 420.98L158.3 419.48L159.8 420.98L158.3 422.48ZM164.4 422.18L165.9 420.68L167.4 422.18L165.9 423.68ZM168.2 422.49L169.7 420.99L171.2 422.49L169.7 423.99ZM160.6 424.78L162.1 423.28L163.6 424.78L162.1 426.28ZM156.8 424.9L158.3 423.4L159.8 424.9L158.3 426.4ZM164.4 426.45L165.9 424.95L167.4 426.45L165.9 427.95ZM168.2 426.78L169.7 425.28L171.2 426.78L169.7 428.28ZM160.6 428.21L162.1 426.71L163.6 428.21L162.1 429.71ZM164.4 429.49L165.9 427.99L167.4 429.49L165.9 430.99ZM160.6 432.62L162.1 431.12L163.6 432.62L162.1 434.12ZM156.8 432.86L158.3 431.36L159.8 432.86L158.3 434.36ZM164.4 434.65L165.9 433.15L167.4 434.65L165.9 436.15ZM160.6 436.12L162.1 434.62L163.6 436.12L162.1 437.62ZM156.8 436.65L158.3 435.15L159.8 436.65L158.3 438.15ZM168.2 437.29L169.7 435.79L171.2 437.29L169.7 438.79ZM160.6 440.63L162.1 439.13L163.6 440.63L162.1 442.13ZM164.4 442.97L165.9 441.47L167.4 442.97L165.9 444.47ZM160.6 443.88L162.1 442.38L163.6 443.88L162.1 445.38ZM156.8 444.73L158.3 443.23L159.8 444.73L158.3 446.23ZM168.2 445.2L169.7 443.7L171.2 445.2L169.7 446.7ZM153 445.3L154.5 443.8L156 445.3L154.5 446.8ZM162.62 445.46L164.12 443.96L165.62 445.46L164.12 446.96ZM154.92 445.87L156.42 444.37L157.92 445.87L156.42 447.37ZM167.22 446.99L168.72 445.49L170.22 446.99L168.72 448.49ZM160.6 450.31L162.1 448.81L163.6 450.31L162.1 451.81ZM164.4 450.55L165.9 449.05L167.4 450.55L165.9 452.05ZM160.6 456.37L162.1 454.87L163.6 456.37L162.1 457.87ZM164.4 457.31L165.9 455.81L167.4 457.31L165.9 458.81ZM156.8 457.46L158.3 455.96L159.8 457.46L158.3 458.96ZM168.2 457.85L169.7 456.35L171.2 457.85L169.7 459.35ZM153 458.64L154.5 457.14L156 458.64L154.5 460.14ZM163.93 458.97L165.43 457.47L166.93 458.97L165.43 460.47ZM160.6 459.32L162.1 457.82L163.6 459.32L162.1 460.82ZM160.6 466.61L162.1 465.11L163.6 466.61L162.1 468.11ZM160.6 470.03L162.1 468.53L163.6 470.03L162.1 471.53ZM160.6 472.75L162.1 471.25L163.6 472.75L162.1 474.25ZM164.4 475.18L165.9 473.68L167.4 475.18L165.9 476.68ZM156.8 475.27L158.3 473.77L159.8 475.27L158.3 476.77ZM160.6 476.68L162.1 475.18L163.6 476.68L162.1 478.18ZM168.2 477.41L169.7 475.91L171.2 477.41L169.7 478.91ZM153 477.55L154.5 476.05L156 477.55L154.5 479.05ZM158.31 477.69L159.81 476.19L161.31 477.69L159.81 479.19ZM152.89 477.83L154.39 476.33L155.89 477.83L154.39 479.33ZM164.4 477.97L165.9 476.47L167.4 477.97L165.9 479.47ZM160.6 479.5L162.1 478L163.6 479.5L162.1 481ZM166.38 479.64L167.88 478.14L169.38 479.64L167.88 481.14ZM166.91 479.64L168.41 478.14L169.91 479.64L168.41 481.14ZM158.71 479.78L160.21 478.28L161.71 479.78L160.21 481.28ZM158.41 479.78L159.91 478.28L161.41 479.78L159.91 481.28Z" fill="#ffd0d0" stroke="#ff8a8a" stroke-width="0.7" stroke-linejoin="round"/>
<line x1="75.8" y1="413.3" x2="93.6" y2="413.3" stroke="#000" stroke-width="1.25" stroke-linecap="butt"/>
<line x1="84.7" y1="410.3" x2="84.7" y2="416.3" stroke="#000" stroke-width="1.25" stroke-linecap="butt"/>
<line x1="80.1" y1="410.3" x2="89.3" y2="410.3" stroke="#000" stroke-width="1.25" stroke-linecap="butt"/>
<line x1="80.1" y1="416.3" x2="89.3" y2="416.3" stroke="#000" stroke-width="1.25" stroke-linecap="butt"/>
<line x1="101.8" y1="431.4" x2="119.6" y2="431.4" stroke="#000" stroke-width="1.25" stroke-linecap="butt"/>
<line x1="110.7" y1="427" x2="110.7" y2="435.8" stroke="#000" stroke-width="1.25" stroke-linecap="butt"/>
<line x1="106.1" y1="427" x2="115.3" y2="427" stroke="#000" stroke-width="1.25" stroke-linecap="butt"/>
<line x1="106.1" y1="435.8" x2="115.3" y2="435.8" stroke="#000" stroke-width="1.25" stroke-linecap="butt"/>
<line x1="127.1" y1="428.1" x2="144.9" y2="428.1" stroke="#000" stroke-width="1.25" stroke-linecap="butt"/>
<line x1="136" y1="424.9" x2="136" y2="431.3" stroke="#000" stroke-width="1.25" stroke-linecap="butt"/>
<line x1="131.4" y1="424.9" x2="140.6" y2="424.9" stroke="#000" stroke-width="1.25" stroke-linecap="butt"/>
<line x1="131.4" y1="431.3" x2="140.6" y2="431.3" stroke="#000" stroke-width="1.25" stroke-linecap="butt"/>
<line x1="153.2" y1="435.4" x2="171" y2="435.4" stroke="#000" stroke-width="1.25" stroke-linecap="butt"/>
<line x1="162.1" y1="431.4" x2="162.1" y2="439.4" stroke="#000" stroke-width="1.25" stroke-linecap="butt"/>
<line x1="157.5" y1="431.4" x2="166.7" y2="431.4" stroke="#000" stroke-width="1.25" stroke-linecap="butt"/>
<line x1="157.5" y1="439.4" x2="166.7" y2="439.4" stroke="#000" stroke-width="1.25" stroke-linecap="butt"/>
<line x1="80.3" y1="355" x2="161.1" y2="355" stroke="#000" stroke-width="1.9" stroke-linecap="butt"/>
<text transform="translate(120.5,350.2) scale(1.18,1)" font-size="5.35" fill="#000" text-anchor="middle">p&lt;0.0001</text>
<line x1="80.3" y1="365.6" x2="133.8" y2="365.6" stroke="#000" stroke-width="1.9" stroke-linecap="butt"/>
<text transform="translate(107.2,360.8) scale(1.18,1)" font-size="5.35" fill="#000" text-anchor="middle">p=0.0009</text>
<line x1="81.4" y1="377" x2="109.9" y2="377" stroke="#000" stroke-width="1.9" stroke-linecap="butt"/>
<text transform="translate(95.4,372) scale(1.18,1)" font-size="5.35" fill="#000" text-anchor="middle">p=0.0003</text>
<line x1="247.4" y1="367.7" x2="247.4" y2="481.3" stroke="#000" stroke-width="1.25" stroke-linecap="butt"/>
<line x1="242.2" y1="480.5" x2="247.4" y2="480.5" stroke="#000" stroke-width="1.25" stroke-linecap="butt"/>
<text x="241.5" y="483.6" font-size="8.6" fill="#1a1a2a" text-anchor="end">0</text>
<line x1="242.2" y1="452.45" x2="247.4" y2="452.45" stroke="#000" stroke-width="1.25" stroke-linecap="butt"/>
<text x="241.5" y="455.55" font-size="8.6" fill="#1a1a2a" text-anchor="end">200</text>
<line x1="242.2" y1="424.4" x2="247.4" y2="424.4" stroke="#000" stroke-width="1.25" stroke-linecap="butt"/>
<text x="241.5" y="427.5" font-size="8.6" fill="#1a1a2a" text-anchor="end">400</text>
<line x1="242.2" y1="396.35" x2="247.4" y2="396.35" stroke="#000" stroke-width="1.25" stroke-linecap="butt"/>
<text x="241.5" y="399.45" font-size="8.6" fill="#1a1a2a" text-anchor="end">600</text>
<line x1="242.2" y1="368.3" x2="247.4" y2="368.3" stroke="#000" stroke-width="1.25" stroke-linecap="butt"/>
<text x="241.5" y="371.4" font-size="8.6" fill="#1a1a2a" text-anchor="end">800</text>
<text transform="translate(221.6,424.4) rotate(-90)" font-size="9.5" text-anchor="middle" fill="#2a2030">Nighttime Sleep (min)</text>
<path d="M257.23 378.19L258.68 376.74L260.13 378.19L258.68 379.64ZM259.52 378.43L260.97 376.98L262.42 378.43L260.97 379.88ZM261.58 378.41L263.03 376.96L264.48 378.41L263.03 379.86ZM262.98 377.86L264.43 376.41L265.88 377.86L264.43 379.31ZM266.01 378.08L267.46 376.63L268.91 378.08L267.46 379.53ZM268.08 377.44L269.53 375.99L270.98 377.44L269.53 378.89ZM269.76 377.6L271.21 376.15L272.66 377.6L271.21 379.05ZM256.14 379.39L257.59 377.94L259.04 379.39L257.59 380.84ZM257.71 378.96L259.16 377.51L260.61 378.96L259.16 380.41ZM260.08 379.8L261.53 378.35L262.98 379.8L261.53 381.25ZM262.67 378.89L264.12 377.44L265.57 378.89L264.12 380.34ZM264.8 378.87L266.25 377.42L267.7 378.87L266.25 380.32ZM266.72 378.85L268.17 377.4L269.62 378.85L268.17 380.3ZM268.2 379.75L269.65 378.3L271.1 379.75L269.65 381.2ZM270.51 378.96L271.96 377.51L273.41 378.96L271.96 380.41ZM256.76 381.15L258.21 379.7L259.66 381.15L258.21 382.6ZM258.11 381.25L259.56 379.8L261.01 381.25L259.56 382.7ZM260.41 380.91L261.86 379.46L263.31 380.91L261.86 382.36ZM262.13 381.23L263.58 379.78L265.03 381.23L263.58 382.68ZM264.67 381.26L266.12 379.81L267.57 381.26L266.12 382.71ZM266.92 380.46L268.37 379.01L269.82 380.46L268.37 381.91ZM268.44 380.3L269.89 378.85L271.34 380.3L269.89 381.75ZM270.27 380.18L271.72 378.73L273.17 380.18L271.72 381.63ZM257.25 382.22L258.7 380.77L260.15 382.22L258.7 383.67ZM258.95 382.31L260.4 380.86L261.85 382.31L260.4 383.76ZM261.29 381.87L262.74 380.42L264.19 381.87L262.74 383.32ZM263.77 382.08L265.22 380.63L266.67 382.08L265.22 383.53ZM265.27 382.08L266.72 380.63L268.17 382.08L266.72 383.53ZM267.65 381.57L269.1 380.12L270.55 381.57L269.1 383.02ZM269.93 381.53L271.38 380.08L272.83 381.53L271.38 382.98ZM259.7 383.91L261.15 382.46L262.6 383.91L261.15 385.36ZM260.97 383.85L262.42 382.4L263.87 383.85L262.42 385.3ZM263.32 383.59L264.77 382.14L266.22 383.59L264.77 385.04ZM264.96 382.96L266.41 381.51L267.86 382.96L266.41 384.41ZM267.13 384.05L268.58 382.6L270.03 384.05L268.58 385.5ZM260.88 385.21L262.33 383.76L263.78 385.21L262.33 386.66ZM263.88 385.43L265.33 383.98L266.78 385.43L265.33 386.88ZM265.56 384.73L267.01 383.28L268.46 384.73L267.01 386.18ZM262.27 386.63L263.72 385.18L265.17 386.63L263.72 388.08ZM264.26 386.6L265.71 385.15L267.16 386.6L265.71 388.05ZM262.9 388.13L264.35 386.68L265.8 388.13L264.35 389.58ZM263.84 388.23L265.29 386.78L266.74 388.23L265.29 389.68ZM263.04 389.11L264.49 387.66L265.94 389.11L264.49 390.56ZM263.56 391.6L265.01 390.15L266.46 391.6L265.01 393.05ZM263.29 393.41L264.74 391.96L266.19 393.41L264.74 394.86ZM263.5 400.8L264.95 399.35L266.4 400.8L264.95 402.25ZM261.95 409L263.4 407.55L264.85 409L263.4 410.45ZM264.95 409.8L266.4 408.35L267.85 409.8L266.4 411.25ZM263.26 415.9L264.71 414.45L266.16 415.9L264.71 417.35ZM263.27 420.2L264.72 418.75L266.17 420.2L264.72 421.65ZM263.13 424.2L264.58 422.75L266.03 424.2L264.58 425.65ZM263.03 426.4L264.48 424.95L265.93 426.4L264.48 427.85ZM263.1 428.8L264.55 427.35L266 428.8L264.55 430.25ZM263.64 432.6L265.09 431.15L266.54 432.6L265.09 434.05ZM263.95 446.4L265.4 444.95L266.85 446.4L265.4 447.85ZM263.11 459.7L264.56 458.25L266.01 459.7L264.56 461.15ZM263 479L264.45 477.55L265.9 479L264.45 480.45Z" fill="#dedede" stroke="#d6d6d6" stroke-width="0.55" stroke-linejoin="round"/>
<path d="M283.5 378.29L284.95 376.84L286.4 378.29L284.95 379.74ZM285.31 377.61L286.76 376.16L288.21 377.61L286.76 379.06ZM286.94 378.1L288.39 376.65L289.84 378.1L288.39 379.55ZM289.52 378.21L290.97 376.76L292.42 378.21L290.97 379.66ZM291.54 378.22L292.99 376.77L294.44 378.22L292.99 379.67ZM293.55 378.26L295 376.81L296.45 378.26L295 379.71ZM296.12 377.8L297.57 376.35L299.02 377.8L297.57 379.25ZM282.24 379.52L283.69 378.07L285.14 379.52L283.69 380.97ZM283.99 379.36L285.44 377.91L286.89 379.36L285.44 380.81ZM286.71 379.02L288.16 377.57L289.61 379.02L288.16 380.47ZM288.8 379.52L290.25 378.07L291.7 379.52L290.25 380.97ZM290.94 379.1L292.39 377.65L293.84 379.1L292.39 380.55ZM292.29 379.66L293.74 378.21L295.19 379.66L293.74 381.11ZM295.1 379.23L296.55 377.78L298 379.23L296.55 380.68ZM296.49 378.94L297.94 377.49L299.39 378.94L297.94 380.39ZM282.51 380.45L283.96 379L285.41 380.45L283.96 381.9ZM284.88 380.81L286.33 379.36L287.78 380.81L286.33 382.26ZM286.18 380.89L287.63 379.44L289.08 380.89L287.63 382.34ZM288.39 381.22L289.84 379.77L291.29 381.22L289.84 382.67ZM290.98 380.72L292.43 379.27L293.88 380.72L292.43 382.17ZM292.77 380.94L294.22 379.49L295.67 380.94L294.22 382.39ZM294.98 381.27L296.43 379.82L297.88 381.27L296.43 382.72ZM296.25 380.53L297.7 379.08L299.15 380.53L297.7 381.98ZM283.65 381.87L285.1 380.42L286.55 381.87L285.1 383.32ZM285.64 381.61L287.09 380.16L288.54 381.61L287.09 383.06ZM287.93 382.13L289.38 380.68L290.83 382.13L289.38 383.58ZM289.17 382.3L290.62 380.85L292.07 382.3L290.62 383.75ZM291.36 381.74L292.81 380.29L294.26 381.74L292.81 383.19ZM293.53 381.67L294.98 380.22L296.43 381.67L294.98 383.12ZM295.26 382.54L296.71 381.09L298.16 382.54L296.71 383.99ZM285.75 382.92L287.2 381.47L288.65 382.92L287.2 384.37ZM287.83 382.92L289.28 381.47L290.73 382.92L289.28 384.37ZM289.38 383.99L290.83 382.54L292.28 383.99L290.83 385.44ZM291.67 383.27L293.12 381.82L294.57 383.27L293.12 384.72ZM293.43 383.37L294.88 381.92L296.33 383.37L294.88 384.82ZM286.91 385.5L288.36 384.05L289.81 385.5L288.36 386.95ZM289.1 384.81L290.55 383.36L292 384.81L290.55 386.26ZM292.06 384.78L293.51 383.33L294.96 384.78L293.51 386.23ZM288.83 385.99L290.28 384.54L291.73 385.99L290.28 387.44ZM291.23 386.77L292.68 385.32L294.13 386.77L292.68 388.22ZM288.87 388.17L290.32 386.72L291.77 388.17L290.32 389.62ZM290.35 388.1L291.8 386.65L293.25 388.1L291.8 389.55ZM289.85 389.32L291.3 387.87L292.75 389.32L291.3 390.77ZM289.52 391.35L290.97 389.9L292.42 391.35L290.97 392.8ZM289.46 392.4L290.91 390.95L292.36 392.4L290.91 393.85ZM289.8 397.5L291.25 396.05L292.7 397.5L291.25 398.95ZM289.32 400.8L290.77 399.35L292.22 400.8L290.77 402.25ZM289.54 402.4L290.99 400.95L292.44 402.4L290.99 403.85ZM289.83 408.7L291.28 407.25L292.73 408.7L291.28 410.15ZM289.22 410.9L290.67 409.45L292.12 410.9L290.67 412.35ZM289.07 418.2L290.52 416.75L291.97 418.2L290.52 419.65ZM289.17 420L290.62 418.55L292.07 420L290.62 421.45ZM289.64 421.4L291.09 419.95L292.54 421.4L291.09 422.85ZM289.41 425.2L290.86 423.75L292.31 425.2L290.86 426.65ZM288.75 429.5L290.2 428.05L291.65 429.5L290.2 430.95ZM290.35 431L291.8 429.55L293.25 431L291.8 432.45ZM289.31 432.4L290.76 430.95L292.21 432.4L290.76 433.85ZM289.5 434L290.95 432.55L292.4 434L290.95 435.45ZM289.98 448.2L291.43 446.75L292.88 448.2L291.43 449.65ZM289.3 474.5L290.75 473.05L292.2 474.5L290.75 475.95Z" fill="#2a2a2a" stroke="#111" stroke-width="0.55" stroke-linejoin="round"/>
<path d="M309.82 377.48L311.27 376.03L312.72 377.48L311.27 378.93ZM313.85 377.39L315.3 375.94L316.75 377.39L315.3 378.84ZM317.44 377.74L318.89 376.29L320.34 377.74L318.89 379.19ZM320.66 377.91L322.11 376.46L323.56 377.91L322.11 379.36ZM308.37 379.22L309.82 377.77L311.27 379.22L309.82 380.67ZM311.76 378.81L313.21 377.36L314.66 378.81L313.21 380.26ZM315.47 379.69L316.92 378.24L318.37 379.69L316.92 381.14ZM318.53 378.97L319.98 377.52L321.43 378.97L319.98 380.42ZM322.4 379.84L323.85 378.39L325.3 379.84L323.85 381.29ZM309.07 380.58L310.52 379.13L311.97 380.58L310.52 382.03ZM312.75 380.16L314.2 378.71L315.65 380.16L314.2 381.61ZM315.91 380.45L317.36 379L318.81 380.45L317.36 381.9ZM318.47 380.24L319.92 378.79L321.37 380.24L319.92 381.69ZM321.92 381.08L323.37 379.63L324.82 381.08L323.37 382.53ZM309.98 382.2L311.43 380.75L312.88 382.2L311.43 383.65ZM313.94 381.95L315.39 380.5L316.84 381.95L315.39 383.4ZM317.35 381.58L318.8 380.13L320.25 381.58L318.8 383.03ZM320.36 381.75L321.81 380.3L323.26 381.75L321.81 383.2ZM312.4 383.41L313.85 381.96L315.3 383.41L313.85 384.86ZM315.36 383.6L316.81 382.15L318.26 383.6L316.81 385.05ZM318.84 383.26L320.29 381.81L321.74 383.26L320.29 384.71ZM314.14 385.14L315.59 383.69L317.04 385.14L315.59 386.59ZM316.99 384.99L318.44 383.54L319.89 384.99L318.44 386.44ZM315.58 386.75L317.03 385.3L318.48 386.75L317.03 388.2ZM315.78 387.45L317.23 386L318.68 387.45L317.23 388.9ZM316.03 388.84L317.48 387.39L318.93 388.84L317.48 390.29ZM315.47 391.41L316.92 389.96L318.37 391.41L316.92 392.86ZM315.2 392.89L316.65 391.44L318.1 392.89L316.65 394.34ZM315.09 397.2L316.54 395.75L317.99 397.2L316.54 398.65ZM315.72 400.5L317.17 399.05L318.62 400.5L317.17 401.95ZM315.81 409L317.26 407.55L318.71 409L317.26 410.45ZM315.62 412.3L317.07 410.85L318.52 412.3L317.07 413.75ZM315.93 416.6L317.38 415.15L318.83 416.6L317.38 418.05ZM315.36 420.9L316.81 419.45L318.26 420.9L316.81 422.35ZM313.35 423L314.8 421.55L316.25 423L314.8 424.45ZM315.55 424.6L317 423.15L318.45 424.6L317 426.05ZM317.75 423L319.2 421.55L320.65 423L319.2 424.45ZM315.75 433L317.2 431.55L318.65 433L317.2 434.45ZM312.55 447.2L314 445.75L315.45 447.2L314 448.65ZM315.55 449.2L317 447.75L318.45 449.2L317 450.65ZM318.55 447.2L320 445.75L321.45 447.2L320 448.65ZM313.95 466.5L315.4 465.05L316.85 466.5L315.4 467.95ZM317.15 466.5L318.6 465.05L320.05 466.5L318.6 467.95Z" fill="#ffe2e2" stroke="#ffd6d6" stroke-width="0.55" stroke-linejoin="round"/>
<path d="M335.03 378.45L336.48 377L337.93 378.45L336.48 379.9ZM337.05 378.15L338.5 376.7L339.95 378.15L338.5 379.6ZM339.12 377.6L340.57 376.15L342.02 377.6L340.57 379.05ZM342.15 377.55L343.6 376.1L345.05 377.55L343.6 379ZM343.91 377.85L345.36 376.4L346.81 377.85L345.36 379.3ZM345.83 377.89L347.28 376.44L348.73 377.89L347.28 379.34ZM347.69 378.3L349.14 376.85L350.59 378.3L349.14 379.75ZM333.89 378.98L335.34 377.53L336.79 378.98L335.34 380.43ZM335.92 379.02L337.37 377.57L338.82 379.02L337.37 380.47ZM338.41 379.78L339.86 378.33L341.31 379.78L339.86 381.23ZM340.48 378.84L341.93 377.39L343.38 378.84L341.93 380.29ZM342.46 379.89L343.91 378.44L345.36 379.89L343.91 381.34ZM344.36 379.44L345.81 377.99L347.26 379.44L345.81 380.89ZM346.78 379.49L348.23 378.04L349.68 379.49L348.23 380.94ZM348.84 379.53L350.29 378.08L351.74 379.53L350.29 380.98ZM334.47 380.88L335.92 379.43L337.37 380.88L335.92 382.33ZM336.93 380.8L338.38 379.35L339.83 380.8L338.38 382.25ZM338.22 380.18L339.67 378.73L341.12 380.18L339.67 381.63ZM341.07 380.69L342.52 379.24L343.97 380.69L342.52 382.14ZM342.37 381.24L343.82 379.79L345.27 381.24L343.82 382.69ZM344.8 380.97L346.25 379.52L347.7 380.97L346.25 382.42ZM347.16 380.44L348.61 378.99L350.06 380.44L348.61 381.89ZM348.68 381.15L350.13 379.7L351.58 381.15L350.13 382.6ZM335.28 382.42L336.73 380.97L338.18 382.42L336.73 383.87ZM337.25 382.33L338.7 380.88L340.15 382.33L338.7 383.78ZM339.85 382.64L341.3 381.19L342.75 382.64L341.3 384.09ZM341.99 382.1L343.44 380.65L344.89 382.1L343.44 383.55ZM343.35 381.68L344.8 380.23L346.25 381.68L344.8 383.13ZM345.68 382.11L347.13 380.66L348.58 382.11L347.13 383.56ZM347.22 382.58L348.67 381.13L350.12 382.58L348.67 384.03ZM337.66 383.74L339.11 382.29L340.56 383.74L339.11 385.19ZM339.37 383.19L340.82 381.74L342.27 383.19L340.82 384.64ZM341.16 383.31L342.61 381.86L344.06 383.31L342.61 384.76ZM343.42 383.41L344.87 381.96L346.32 383.41L344.87 384.86ZM345.53 383.9L346.98 382.45L348.43 383.9L346.98 385.35ZM339.77 384.51L341.22 383.06L342.67 384.51L341.22 385.96ZM341.55 384.5L343 383.05L344.45 384.5L343 385.95ZM344.08 385.47L345.53 384.02L346.98 385.47L345.53 386.92ZM340.15 386.62L341.6 385.17L343.05 386.62L341.6 388.07ZM342.65 385.72L344.1 384.27L345.55 385.72L344.1 387.17ZM341.06 387.51L342.51 386.06L343.96 387.51L342.51 388.96ZM342.17 387.62L343.62 386.17L345.07 387.62L343.62 389.07ZM341.38 389.19L342.83 387.74L344.28 389.19L342.83 390.64ZM341.6 391L343.05 389.55L344.5 391L343.05 392.45ZM341.74 392.65L343.19 391.2L344.64 392.65L343.19 394.1ZM341.25 408L342.7 406.55L344.15 408L342.7 409.45ZM341.24 412.3L342.69 410.85L344.14 412.3L342.69 413.75ZM340.25 416.4L341.7 414.95L343.15 416.4L341.7 417.85ZM343.05 416.8L344.5 415.35L345.95 416.8L344.5 418.25ZM341.26 420.2L342.71 418.75L344.16 420.2L342.71 421.65ZM341.67 424L343.12 422.55L344.57 424L343.12 425.45ZM341.51 431.7L342.96 430.25L344.41 431.7L342.96 433.15ZM341.96 433.6L343.41 432.15L344.86 433.6L343.41 435.05ZM341.65 437.5L343.1 436.05L344.55 437.5L343.1 438.95ZM341.86 442.5L343.31 441.05L344.76 442.5L343.31 443.95ZM342.13 447L343.58 445.55L345.03 447L343.58 448.45ZM341.21 451L342.66 449.55L344.11 451L342.66 452.45ZM341.17 453.5L342.62 452.05L344.07 453.5L342.62 454.95ZM341.29 458.5L342.74 457.05L344.19 458.5L342.74 459.95ZM341.54 464L342.99 462.55L344.44 464L342.99 465.45ZM341.72 469.5L343.17 468.05L344.62 469.5L343.17 470.95Z" fill="#ff9c9c" stroke="#ff8b8b" stroke-width="0.55" stroke-linejoin="round"/>
<line x1="256" y1="395.3" x2="273.8" y2="395.3" stroke="#000" stroke-width="1.25" stroke-linecap="butt"/>
<line x1="264.9" y1="392.3" x2="264.9" y2="398.3" stroke="#000" stroke-width="1.25" stroke-linecap="butt"/>
<line x1="260.3" y1="392.3" x2="269.5" y2="392.3" stroke="#000" stroke-width="1.25" stroke-linecap="butt"/>
<line x1="260.3" y1="398.3" x2="269.5" y2="398.3" stroke="#000" stroke-width="1.25" stroke-linecap="butt"/>
<line x1="282.1" y1="393.3" x2="299.9" y2="393.3" stroke="#000" stroke-width="1.25" stroke-linecap="butt"/>
<line x1="291" y1="389.9" x2="291" y2="396.7" stroke="#000" stroke-width="1.25" stroke-linecap="butt"/>
<line x1="286.4" y1="389.9" x2="295.6" y2="389.9" stroke="#000" stroke-width="1.25" stroke-linecap="butt"/>
<line x1="286.4" y1="396.7" x2="295.6" y2="396.7" stroke="#000" stroke-width="1.25" stroke-linecap="butt"/>
<line x1="308.1" y1="404.3" x2="325.9" y2="404.3" stroke="#000" stroke-width="1.25" stroke-linecap="butt"/>
<line x1="317" y1="401.1" x2="317" y2="407.5" stroke="#000" stroke-width="1.25" stroke-linecap="butt"/>
<line x1="312.4" y1="401.1" x2="321.6" y2="401.1" stroke="#000" stroke-width="1.25" stroke-linecap="butt"/>
<line x1="312.4" y1="407.5" x2="321.6" y2="407.5" stroke="#000" stroke-width="1.25" stroke-linecap="butt"/>
<line x1="334.2" y1="399.3" x2="352" y2="399.3" stroke="#000" stroke-width="1.25" stroke-linecap="butt"/>
<line x1="343.1" y1="395.7" x2="343.1" y2="402.9" stroke="#000" stroke-width="1.25" stroke-linecap="butt"/>
<line x1="338.5" y1="395.7" x2="347.7" y2="395.7" stroke="#000" stroke-width="1.25" stroke-linecap="butt"/>
<line x1="338.5" y1="402.9" x2="347.7" y2="402.9" stroke="#000" stroke-width="1.25" stroke-linecap="butt"/>
<line x1="264" y1="365.9" x2="344.9" y2="365.9" stroke="#000" stroke-width="2" stroke-linecap="butt"/>
<text transform="translate(304.2,361) scale(0.8,1)" font-size="7" fill="#000" text-anchor="middle">ns</text>
<line x1="421.5" y1="367.8" x2="421.5" y2="481.6" stroke="#000" stroke-width="1.25" stroke-linecap="butt"/>
<line x1="416.3" y1="480.8" x2="421.5" y2="480.8" stroke="#000" stroke-width="1.25" stroke-linecap="butt"/>
<text x="415.6" y="483.9" font-size="8.6" fill="#1a1a2a" text-anchor="end">0</text>
<line x1="416.3" y1="458.32" x2="421.5" y2="458.32" stroke="#000" stroke-width="1.25" stroke-linecap="butt"/>
<text x="415.6" y="461.42" font-size="8.6" fill="#1a1a2a" text-anchor="end">2</text>
<line x1="416.3" y1="435.84" x2="421.5" y2="435.84" stroke="#000" stroke-width="1.25" stroke-linecap="butt"/>
<text x="415.6" y="438.94" font-size="8.6" fill="#1a1a2a" text-anchor="end">4</text>
<line x1="416.3" y1="413.36" x2="421.5" y2="413.36" stroke="#000" stroke-width="1.25" stroke-linecap="butt"/>
<text x="415.6" y="416.46" font-size="8.6" fill="#1a1a2a" text-anchor="end">6</text>
<line x1="416.3" y1="390.88" x2="421.5" y2="390.88" stroke="#000" stroke-width="1.25" stroke-linecap="butt"/>
<text x="415.6" y="393.98" font-size="8.6" fill="#1a1a2a" text-anchor="end">8</text>
<line x1="416.3" y1="368.4" x2="421.5" y2="368.4" stroke="#000" stroke-width="1.25" stroke-linecap="butt"/>
<text x="415.6" y="371.5" font-size="8.6" fill="#1a1a2a" text-anchor="end">10</text>
<text transform="translate(400.9,424.6) rotate(-90) scale(1,1.12)" font-size="9.3" text-anchor="middle" fill="#2a2030">Daily number of seizures</text>
<path d="M437.5 477.43L438.9 476.03L440.3 477.43L438.9 478.83ZM437.5 475.18L438.9 473.78L440.3 475.18L438.9 476.58ZM437.5 472.93L438.9 471.53L440.3 472.93L438.9 474.33ZM437.5 470.68L438.9 469.28L440.3 470.68L438.9 472.08ZM437.5 469L438.9 467.6L440.3 469L438.9 470.4ZM437.5 467.31L438.9 465.91L440.3 467.31L438.9 468.71Z" fill="#dcdcdc" stroke="#d2d2d2" stroke-width="0.4" stroke-linejoin="round"/>
<path d="M463.75 476.87L465 475.62L466.25 476.87L465 478.12ZM463.75 474.06L465 472.81L466.25 474.06L465 475.31ZM463.75 471.25L465 470L466.25 471.25L465 472.5Z" fill="#555" stroke="#1c1c1c" stroke-width="0.4" stroke-linejoin="round"/>
<path d="M489.85 477.43L491.3 475.98L492.75 477.43L491.3 478.88ZM489.85 474.06L491.3 472.61L492.75 474.06L491.3 475.51ZM489.85 470.68L491.3 469.23L492.75 470.68L491.3 472.13ZM489.85 467.31L491.3 465.86L492.75 467.31L491.3 468.76ZM489.85 462.59L491.3 461.14L492.75 462.59L491.3 464.04ZM489.85 460.34L491.3 458.89L492.75 460.34L491.3 461.79ZM489.85 446.86L491.3 445.41L492.75 446.86L491.3 448.31ZM489.85 441.46L491.3 440.01L492.75 441.46L491.3 442.91ZM489.85 439.1L491.3 437.65L492.75 439.1L491.3 440.55ZM489.85 431.57L491.3 430.12L492.75 431.57L491.3 433.02ZM489.85 383.01L491.3 381.56L492.75 383.01L491.3 384.46Z" fill="#ffe6e6" stroke="#ffd6d6" stroke-width="0.4" stroke-linejoin="round"/>
<path d="M516.1 477.43L517.4 476.13L518.7 477.43L517.4 478.73ZM516.1 475.18L517.4 473.88L518.7 475.18L517.4 476.48ZM516.1 472.93L517.4 471.63L518.7 472.93L517.4 474.23ZM516.1 470.68L517.4 469.38L518.7 470.68L517.4 471.98ZM516.1 469.56L517.4 468.26L518.7 469.56L517.4 470.86Z" fill="#ffb0b0" stroke="#ff8a8a" stroke-width="0.4" stroke-linejoin="round"/>
<line x1="430.2" y1="479.9" x2="447.9" y2="479.9" stroke="#d6d6d6" stroke-width="1.7" stroke-linecap="butt"/>
<line x1="433.8" y1="479.9" x2="444.3" y2="479.9" stroke="#000" stroke-width="1.7" stroke-linecap="butt"/>
<path d="M456.6 478.200V479.9H473.4V478.200" fill="none" stroke="#000" stroke-width="1.7"/>
<rect x="483.3" y="474.6" width="16.2" height="5.4" fill="none" stroke="#ffcccc" stroke-width="1"/>
<line x1="491.2" y1="474.35" x2="491.2" y2="474.35" stroke="#000" stroke-width="1.25" stroke-linecap="butt"/>
<line x1="491.2" y1="472.3" x2="491.2" y2="476.4" stroke="#000" stroke-width="1.25" stroke-linecap="butt"/>
<line x1="486.3" y1="472.3" x2="496.1" y2="472.3" stroke="#000" stroke-width="1.25" stroke-linecap="butt"/>
<line x1="486.3" y1="476.4" x2="496.1" y2="476.4" stroke="#000" stroke-width="1.25" stroke-linecap="butt"/>
<line x1="508" y1="479.9" x2="526.2" y2="479.9" stroke="#ff8585" stroke-width="2.5" stroke-linecap="butt"/>
<line x1="512.4" y1="479.9" x2="521.8" y2="479.9" stroke="#000" stroke-width="1.6" stroke-linecap="butt"/>
<path d="M439.5 374.4V369.3H490.8V374.4" fill="none" stroke="#000" stroke-width="1.15"/>
<path d="M466.5 423.6V418.3H517.6V423.6" fill="none" stroke="#000" stroke-width="1.15"/>
<line x1="453.6" y1="369.3" x2="491" y2="418.3" stroke="#000" stroke-width="1.15" stroke-linecap="butt"/>
<rect x="452.5" y="386.2" width="34" height="14" fill="#fff"/>
<text transform="translate(469.2,395.6) scale(1.18,1)" font-size="5.35" fill="#000" text-anchor="middle">p=0.00275</text>
<text transform="translate(505.8,365.8) scale(1.18,1)" font-size="5.35" fill="#000" text-anchor="middle">p=0.0025</text>
<line x1="491.8" y1="370.9" x2="520.1" y2="370.9" stroke="#000" stroke-width="2.1" stroke-linecap="butt"/>
<line x1="437.2" y1="462.1" x2="466.7" y2="462.1" stroke="#000" stroke-width="1.9" stroke-linecap="butt"/>
<text transform="translate(452.2,457.2) scale(0.8,1)" font-size="7" fill="#000" text-anchor="middle">ns</text>
<line x1="606.6" y1="367.8" x2="606.6" y2="481.6" stroke="#000" stroke-width="1.25" stroke-linecap="butt"/>
<line x1="601.4" y1="480.8" x2="606.6" y2="480.8" stroke="#000" stroke-width="1.25" stroke-linecap="butt"/>
<text x="600.7" y="483.9" font-size="8.6" fill="#1a1a2a" text-anchor="end">0</text>
<line x1="601.4" y1="443.33" x2="606.6" y2="443.33" stroke="#000" stroke-width="1.25" stroke-linecap="butt"/>
<text x="600.7" y="446.43" font-size="8.6" fill="#1a1a2a" text-anchor="end">10</text>
<line x1="601.4" y1="405.87" x2="606.6" y2="405.87" stroke="#000" stroke-width="1.25" stroke-linecap="butt"/>
<text x="600.7" y="408.97" font-size="8.6" fill="#1a1a2a" text-anchor="end">20</text>
<line x1="601.4" y1="368.4" x2="606.6" y2="368.4" stroke="#000" stroke-width="1.25" stroke-linecap="butt"/>
<text x="600.7" y="371.5" font-size="8.6" fill="#1a1a2a" text-anchor="end">30</text>
<text transform="translate(585.5,424.2) rotate(-90) scale(1,1.05)" font-size="9.5" text-anchor="middle" fill="#2a2030">Seizure duration (min)</text>
<line x1="621.2" y1="365.8" x2="703" y2="365.8" stroke="#000" stroke-width="1.9" stroke-linecap="butt"/>
<line x1="621.2" y1="377.9" x2="704" y2="377.9" stroke="#000" stroke-width="1.9" stroke-linecap="butt"/>
<text transform="translate(649.9,361) scale(0.8,1)" font-size="7" fill="#000" text-anchor="middle">ns</text>
<text transform="translate(690.8,361) scale(0.8,1)" font-size="7" fill="#000" text-anchor="middle">ns</text>
<text transform="translate(636,373) scale(0.8,1)" font-size="7" fill="#000" text-anchor="middle">ns</text>
<text transform="translate(676.7,373) scale(0.8,1)" font-size="7" fill="#000" text-anchor="middle">ns</text>
<path d="M616.4 480.8V472H632.6V480.8" fill="none" stroke="#e6e6e6" stroke-width="1"/>
<path d="M622.9 421.4L624.4 419.9L625.9 421.4L624.4 422.9ZM622.9 433.4L624.4 431.9L625.9 433.4L624.4 434.9Z" fill="#d2d2d2" stroke="#d2d2d2" stroke-width="0.4" stroke-linejoin="round"/>
<path d="M618.3 478.6L619.4 477.5L620.5 478.6L619.4 479.7ZM621.3 478.6L622.4 477.5L623.5 478.6L622.4 479.7ZM625.3 478.6L626.4 477.5L627.5 478.6L626.4 479.7ZM628.3 478.6L629.4 477.5L630.5 478.6L629.4 479.7Z" fill="#dcdcdc" stroke="#dcdcdc" stroke-width="0.4" stroke-linejoin="round"/>
<line x1="624.4" y1="471.9" x2="624.4" y2="471.9" stroke="#000" stroke-width="1.2" stroke-linecap="butt"/>
<line x1="624.4" y1="467.1" x2="624.4" y2="476.7" stroke="#000" stroke-width="1.2" stroke-linecap="butt"/>
<line x1="619.5" y1="467.1" x2="629.3" y2="467.1" stroke="#000" stroke-width="1.2" stroke-linecap="butt"/>
<line x1="619.5" y1="476.7" x2="629.3" y2="476.7" stroke="#000" stroke-width="1.2" stroke-linecap="butt"/>
<path d="M642.7 481.4V469.4H658.2V481.4" fill="none" stroke="#000" stroke-width="2.1"/>
<path d="M648.7 412.8L650.2 411.3L651.7 412.8L650.2 414.3ZM644.9 478.9L646 477.8L647.1 478.9L646 480ZM647.7 478.9L648.8 477.8L649.9 478.9L648.8 480ZM650.5 478.9L651.6 477.8L652.7 478.9L651.6 480ZM653.3 478.9L654.4 477.8L655.5 478.9L654.4 480ZM649.2 475L650.2 474L651.2 475L650.2 476Z" fill="#222" stroke="#222" stroke-width="0.4" stroke-linejoin="round"/>
<line x1="650" y1="468.6" x2="650" y2="468.6" stroke="#000" stroke-width="1.2" stroke-linecap="butt"/>
<line x1="650" y1="460.5" x2="650" y2="476.7" stroke="#000" stroke-width="1.2" stroke-linecap="butt"/>
<line x1="645.2" y1="460.5" x2="654.8" y2="460.5" stroke="#000" stroke-width="1.2" stroke-linecap="butt"/>
<line x1="645.2" y1="476.7" x2="654.8" y2="476.7" stroke="#000" stroke-width="1.2" stroke-linecap="butt"/>
<path d="M668.8 480.8V465.6H684.4V480.8" fill="none" stroke="#ffd2d2" stroke-width="1.3"/>
<path d="M674.8 382.5L676.3 381L677.8 382.5L676.3 384ZM674.8 429.2L676.3 427.7L677.8 429.2L676.3 430.7ZM674.8 433.1L676.3 431.6L677.8 433.1L676.3 434.6ZM674.8 439.1L676.3 437.6L677.8 439.1L676.3 440.6ZM671.2 477L672.3 475.9L673.4 477L672.3 478.1ZM675.2 474L676.3 472.9L677.4 474L676.3 475.1ZM679.2 477L680.3 475.9L681.4 477L680.3 478.1ZM673.2 470L674.3 468.9L675.4 470L674.3 471.1ZM678.2 471L679.3 469.9L680.4 471L679.3 472.1Z" fill="#ffd9d9" stroke="#ffd9d9" stroke-width="0.4" stroke-linejoin="round"/>
<line x1="676.3" y1="464.95" x2="676.3" y2="464.95" stroke="#000" stroke-width="1.2" stroke-linecap="butt"/>
<line x1="676.3" y1="459.5" x2="676.3" y2="470.4" stroke="#000" stroke-width="1.2" stroke-linecap="butt"/>
<line x1="671.5" y1="459.5" x2="681.1" y2="459.5" stroke="#000" stroke-width="1.2" stroke-linecap="butt"/>
<line x1="671.5" y1="470.4" x2="681.1" y2="470.4" stroke="#000" stroke-width="1.2" stroke-linecap="butt"/>
<path d="M695.4 481.4V469.3H710.1V481.4" fill="none" stroke="#ff8585" stroke-width="2.3"/>
<path d="M701 441.4L702.6 439.8L704.2 441.4L702.6 443ZM701 450.4L702.6 448.8L704.2 450.4L702.6 452ZM698.1 478L699.1 477L700.1 478L699.1 479ZM701.6 478L702.6 477L703.6 478L702.6 479ZM705.1 478L706.1 477L707.1 478L706.1 479ZM698.1 474.5L699.1 473.5L700.1 474.5L699.1 475.5ZM705.1 474.5L706.1 473.5L707.1 474.5L706.1 475.5Z" fill="#ff8a8a" stroke="#ff8a8a" stroke-width="0.4" stroke-linejoin="round"/>
<line x1="702.6" y1="467.75" x2="702.6" y2="467.75" stroke="#000" stroke-width="1.2" stroke-linecap="butt"/>
<line x1="702.6" y1="462.4" x2="702.6" y2="473.1" stroke="#000" stroke-width="1.2" stroke-linecap="butt"/>
<line x1="697.8" y1="462.4" x2="707.4" y2="462.4" stroke="#000" stroke-width="1.2" stroke-linecap="butt"/>
<line x1="697.8" y1="473.1" x2="707.4" y2="473.1" stroke="#000" stroke-width="1.2" stroke-linecap="butt"/>
<g opacity="0.31">
<path d="M476.9 459.2c5.5 0 10 3.7 10 8.2s-4.5 8.200-10 8.200c-1.500 0-2.900-.3-4.200-.7l-3.100 2.300.8-3.500c-2.100-1.500-3.500-3.800-3.500-6.300 0-4.500 4.500-8.200 10-8.200z" fill="#000"/>
<path d="M486.200 467.300c4.600 0 8.300 3 8.300 6.700 0 2.100-1.200 4-3.100 5.200l.7 3-2.800-1.900c-1 .3-2 .4-3.100.4-4.600 0-8.300-3-8.300-6.700s3.700-6.700 8.300-6.700z" fill="#000" stroke="#fff" stroke-width="1.1"/>
<g fill="#fff"><circle cx="473.6" cy="465.3" r="1.35"/><circle cx="480.5" cy="465.3" r="1.35"/><circle cx="483.600" cy="472.100" r="1.05"/><circle cx="489.100" cy="472.100" r="1.05"/></g>
</g>
<g fill="#000" fill-opacity="0.40" font-size="21.7" font-family="'Liberation Sans', 'Noto Sans CJK SC', sans-serif" id="wm">
<text x="501.2" y="479.3">公众号</text>
<text x="575.6" y="479.3" text-anchor="middle">·</text>
<text x="588.9" y="479.3" font-size="21.9">脑体互作研究院</text>
</g>
</svg>
</body></html>
